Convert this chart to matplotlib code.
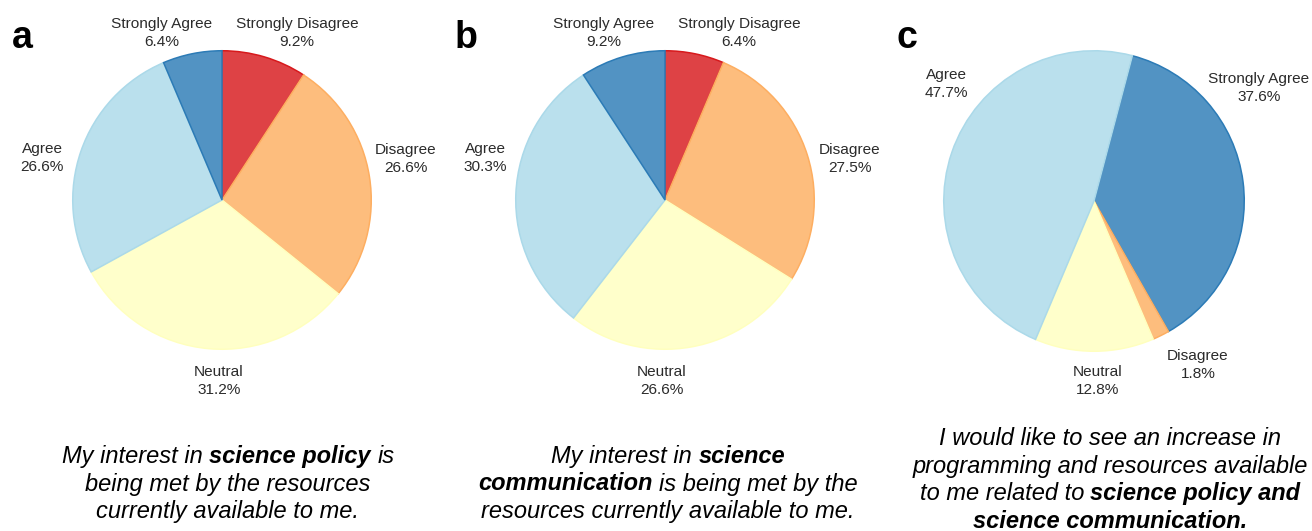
import matplotlib
matplotlib.use('Agg')
import matplotlib.pyplot as plt
from matplotlib.colors import to_rgb

plt.rcParams['font.family'] = ['Liberation Sans', 'DejaVu Sans']

W, H, DPI = 1312, 531, 100

# ---------------- data ----------------
cats_a = ['Strongly Disagree', 'Disagree', 'Neutral', 'Agree', 'Strongly Agree']
vals_a = [9.2, 26.6, 31.2, 26.6, 6.4]
cats_b = ['Strongly Disagree', 'Disagree', 'Neutral', 'Agree', 'Strongly Agree']
vals_b = [6.4, 27.5, 26.6, 30.3, 9.2]
cats_c = ['Strongly Agree', 'Disagree', 'Neutral', 'Agree']
vals_c = [37.6, 1.8, 12.8, 47.7]

panel_letters = ['a', 'b', 'c']

caption_a = [[("My interest in", 'normal'), ("science policy", 'bold'), ("is", 'normal')],
             [("being met by the resources", 'normal')],
             [("currently available to me.", 'normal')]]
caption_b = [[("My interest in", 'normal'), ("science", 'bold')],
             [("communication", 'bold'), ("is being met by the", 'normal')],
             [("resources currently available to me.", 'normal')]]
caption_c = [[("I would like to see an increase in", 'normal')],
             [("programming and resources available", 'normal')],
             [("to me related to", 'normal'), ("science policy and", 'bold')],
             [("science communication.", 'bold')]]

base_colors = {'Strongly Disagree': '#d7191c', 'Disagree': '#fdae61', 'Neutral': '#ffffbf',
               'Agree': '#abd9e9', 'Strongly Agree': '#2c7bb6'}

# ---------------- layout (pixels from top-left) ----------------
pie_layout = [  # cx, cy, r, startangle
    (222, 200, 150, 90),
    (665, 200, 150, 90),
    (1094, 201, 151, 75.2),
]
label_pos = [
    {'Strongly Disagree': (297, 33), 'Disagree': (406, 159), 'Neutral': (219, 381),
     'Agree': (42, 158), 'Strongly Agree': (162, 33)},
    {'Strongly Disagree': (739, 33), 'Disagree': (850, 159), 'Neutral': (662, 381),
     'Agree': (485, 158), 'Strongly Agree': (604, 33)},
    {'Strongly Agree': (1259, 88), 'Disagree': (1198, 365), 'Neutral': (1098, 381),
     'Agree': (946, 84)},
]
letter_pos = [(12, 48), (455, 48), (897, 48)]
caption_layout = [  # center x, first baseline, line step
    (228, 463, 27.5),
    (668, 463, 27.5),
    (1110, 445, 27.5),
]

fig = plt.figure(figsize=(W / DPI, H / DPI), dpi=DPI)
fig.patch.set_facecolor('white')


def lighten(c, a=0.82):
    r, g, b = to_rgb(c)
    return (r * a + (1 - a), g * a + (1 - a), b * a + (1 - a))


def fx(x):
    return x / W


def fy(y):
    return 1 - y / H


data = [(cats_a, vals_a), (cats_b, vals_b), (cats_c, vals_c)]
for i, ((cats, vals), (cx, cy, r, sa)) in enumerate(zip(data, pie_layout)):
    ax = fig.add_axes([(cx - r) / W, (H - cy - r) / H, 2 * r / W, 2 * r / H])
    wedges, _ = ax.pie(vals, startangle=sa, counterclock=False,
                       colors=[lighten(base_colors[c]) for c in cats],
                       wedgeprops=dict(linewidth=1.1))
    for w, c in zip(wedges, cats):
        w.set_edgecolor(base_colors[c])
    ax.set_xlim(-1.005, 1.005)
    ax.set_ylim(-1.005, 1.005)
    ax.axis('off')
    for c, v in zip(cats, vals):
        x, y = label_pos[i][c]
        fig.text(fx(x), fy(y), f"{c}\n{v:.1f}%", ha='center', va='center',
                 fontsize=11.1, color='#2b2b2b', linespacing=1.42)
    lx, ly = letter_pos[i]
    fig.text(fx(lx), fy(ly), panel_letters[i], ha='left', va='baseline',
             fontsize=27, fontweight='bold', color='black')

renderer = fig.canvas.get_renderer()
CAP_SIZE = 17


def text_width(s, weight):
    t = fig.text(0, 0, s, fontsize=CAP_SIZE, style='italic', weight=weight)
    w = t.get_window_extent(renderer).width
    t.remove()
    return w


space_w = text_width('a a', 'normal') - text_width('aa', 'normal')

for (cx, y0, step), lines in zip(caption_layout, [caption_a, caption_b, caption_c]):
    for k, segs in enumerate(lines):
        widths = [text_width(s, wt) for s, wt in segs]
        total = sum(widths) + space_w * (len(segs) - 1)
        x = cx - total / 2
        y = y0 + k * step
        for (s, wt), w in zip(segs, widths):
            fig.text(fx(x), fy(y), s, ha='left', va='baseline', fontsize=CAP_SIZE,
                     style='italic', weight=wt, color='black')
            x += w + space_w

fig.savefig('out.png', dpi=DPI, facecolor='white')
